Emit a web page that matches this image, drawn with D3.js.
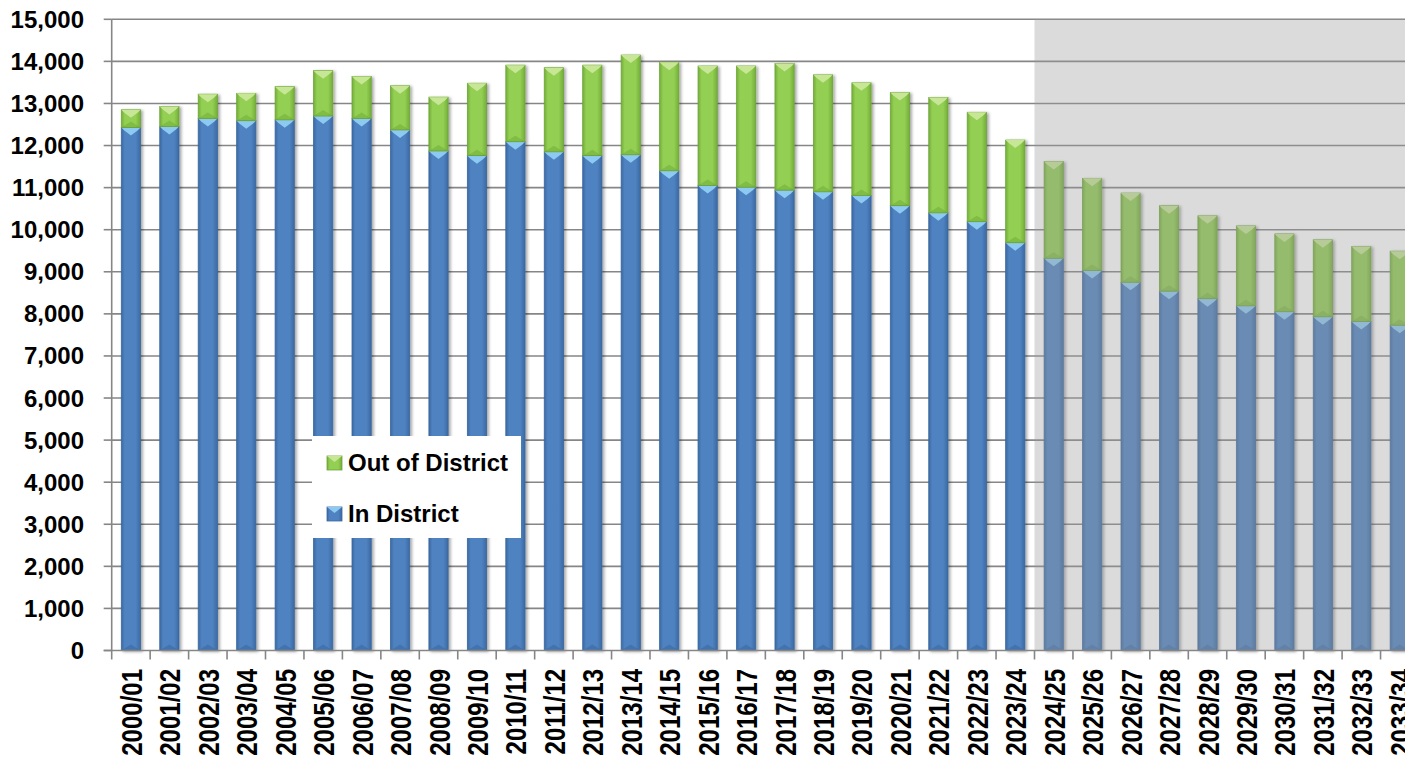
<!DOCTYPE html>
<html>
<head>
<meta charset="utf-8">
<script src="https://cdn.jsdelivr.net/npm/d3@7"></script>
<style>
  body { margin: 0; background: #fff; }
  svg { display: block; }
  text { font-family: "Liberation Sans", Arial, sans-serif; font-weight: bold; fill: #000; }
</style>
</head>
<body>
<script>
// school years
var categories = [
  "2000/01","2001/02","2002/03","2003/04","2004/05","2005/06","2006/07","2007/08",
  "2008/09","2009/10","2010/11","2011/12","2012/13","2013/14","2014/15","2015/16",
  "2016/17","2017/18","2018/19","2019/20","2020/21","2021/22","2022/23","2023/24",
  "2024/25","2025/26","2026/27","2027/28","2028/29","2029/30","2030/31","2031/32",
  "2032/33","2033/34"
];

var inDistrict = [
  12430, 12450, 12640, 12590, 12610, 12700, 12640, 12370,
  11870, 11760, 12090, 11850, 11760, 11780, 11400, 11050,
  11010, 10940, 10900, 10810, 10570, 10400, 10190, 9690,
  9320, 9030, 8750, 8540, 8360, 8190, 8050, 7930,
  7820, 7730
];

var outOfDistrict = [
  420, 480, 580, 650, 790, 1080, 1000, 1050,
  1280, 1720, 1820, 2000, 2150, 2370, 2580, 2840,
  2880, 3010, 2780, 2680, 2690, 2740, 2600, 2440,
  2300, 2190, 2120, 2030, 1970, 1900, 1850, 1830,
  1780, 1760
];

var yTicks = [0,1000,2000,3000,4000,5000,6000,7000,8000,9000,10000,11000,12000,13000,14000,15000];
var forecastStart = "2024/25";

var W = 1405, H = 758;
var plotLeft = 111.7, plotTop = 19.3, plotBottom = 650.5, plotRight = 1419;

var svg = d3.select("body").append("svg")
  .attr("width", W)
  .attr("height", H);

var defs = svg.append("defs");

function hGrad(id, edge, mid) {
  var g = defs.append("linearGradient").attr("id", id)
    .attr("x1", "0%").attr("x2", "100%").attr("y1", "0%").attr("y2", "0%");
  g.append("stop").attr("offset", "0%").attr("stop-color", edge);
  g.append("stop").attr("offset", "18%").attr("stop-color", mid);
  g.append("stop").attr("offset", "75%").attr("stop-color", mid);
  g.append("stop").attr("offset", "100%").attr("stop-color", edge);
}
hGrad("blueGrad", "#3b6aa3", "#4f82c0");
hGrad("greenGrad", "#74ad3a", "#92cf52");

var shadow = defs.append("filter").attr("id", "shadow")
  .attr("x", "-50%").attr("y", "-10%").attr("width", "200%").attr("height", "120%");
shadow.append("feDropShadow").attr("dx", 2).attr("dy", 1).attr("stdDeviation", 1.6)
  .attr("flood-color", "#000").attr("flood-opacity", 0.35);

var x = d3.scaleBand()
  .domain(categories)
  .range([plotLeft, plotRight])
  .paddingInner(0.5)
  .paddingOuter(0.25);

var y = d3.scaleLinear()
  .domain([0, 15000])
  .range([plotBottom, plotTop]);

var step = x.step();
var gap = (step - x.bandwidth()) / 2;

// gridlines
svg.append("g")
  .selectAll("line")
  .data(yTicks.filter(function(d) { return d > 0; }))
  .enter().append("line")
  .attr("x1", plotLeft).attr("x2", W)
  .attr("y1", function(d) { return y(d); })
  .attr("y2", function(d) { return y(d); })
  .attr("stroke", "#868686")
  .attr("stroke-width", 1.6);

// bars
var stacked = categories.map(function(c, i) {
  return { cat: c, inD: inDistrict[i], outD: outOfDistrict[i] };
});

var bw = x.bandwidth();
var tri = 6;

function segment(g, x0, yTop, yBot, grad, light, dark, edge) {
  var h = yBot - yTop;
  g.append("rect")
    .attr("x", x0).attr("y", yTop)
    .attr("width", bw).attr("height", h)
    .attr("fill", "url(#" + grad + ")")
    .attr("stroke", edge).attr("stroke-width", 0.8);
  // top bevel
  g.append("path")
    .attr("d", "M" + x0 + "," + yTop + "L" + (x0 + bw) + "," + yTop +
      "L" + (x0 + bw - 3) + "," + (yTop + 3) + "L" + (x0 + bw / 2) + "," + (yTop + tri + 2) +
      "L" + (x0 + 3) + "," + (yTop + 3) + "Z")
    .attr("fill", light);
  // bottom bevel
  g.append("path")
    .attr("d", "M" + x0 + "," + yBot + "L" + (x0 + bw) + "," + yBot +
      "L" + (x0 + bw / 2) + "," + (yBot - tri) + "Z")
    .attr("fill", dark).attr("opacity", 0.35);
}

var barG = svg.append("g");
stacked.forEach(function(d) {
  var g = barG.append("g").attr("filter", "url(#shadow)");
  var x0 = x(d.cat);
  segment(g, x0, y(d.inD), y(0), "blueGrad", "#8ccaf2", "#2e5a8f", "#3a679e");
  segment(g, x0, y(d.inD + d.outD), y(d.inD), "greenGrad", "#c7e796", "#5e9a2a", "#6fa43a");
});

// forecast shading
var fx = x(forecastStart) - gap;
svg.append("rect")
  .attr("x", fx).attr("y", plotTop)
  .attr("width", W - fx).attr("height", plotBottom - plotTop)
  .attr("fill", "#9a9a9a")
  .attr("opacity", 0.36);

// axes
svg.append("line")
  .attr("x1", plotLeft).attr("x2", plotLeft)
  .attr("y1", plotTop).attr("y2", plotBottom)
  .attr("stroke", "#868686").attr("stroke-width", 1.6);
svg.append("line")
  .attr("x1", plotLeft - 8).attr("x2", W)
  .attr("y1", plotBottom).attr("y2", plotBottom)
  .attr("stroke", "#868686").attr("stroke-width", 1.6);

svg.append("g")
  .selectAll("line")
  .data(yTicks)
  .enter().append("line")
  .attr("x1", plotLeft - 8).attr("x2", plotLeft)
  .attr("y1", function(d) { return y(d); })
  .attr("y2", function(d) { return y(d); })
  .attr("stroke", "#868686").attr("stroke-width", 1.6);

svg.append("g")
  .selectAll("line")
  .data(categories)
  .enter().append("line")
  .attr("x1", function(d) { return x(d) - gap; })
  .attr("x2", function(d) { return x(d) - gap; })
  .attr("y1", plotBottom).attr("y2", plotBottom + 9)
  .attr("stroke", "#868686").attr("stroke-width", 1.6);

var fmt = d3.format(",");
svg.append("g")
  .selectAll("text")
  .data(yTicks)
  .enter().append("text")
  .attr("x", 84)
  .attr("y", function(d) { return y(d) + 8.5; })
  .attr("text-anchor", "end")
  .style("font-size", "24px")
  .text(function(d) { return fmt(d); });

svg.append("g")
  .selectAll("text")
  .data(categories)
  .enter().append("text")
  .attr("transform", function(d) {
    return "translate(" + (x(d) + bw / 2 + 11) + "," + 669 + ") rotate(-90) scale(1,1.22)";
  })
  .attr("text-anchor", "end")
  .style("font-size", "24px")
  .text(function(d) { return d; });

// legend
var leg = svg.append("g");
leg.append("rect")
  .attr("x", 312).attr("y", 436)
  .attr("width", 209).attr("height", 102)
  .attr("fill", "#fff");

var legendItems = [
  { label: "Out of District", grad: "greenGrad", light: "#c7e796", edge: "#6fa43a", y: 456 },
  { label: "In District", grad: "blueGrad", light: "#8ccaf2", edge: "#3a679e", y: 507 }
];
legendItems.forEach(function(it) {
  leg.append("rect")
    .attr("x", 327).attr("y", it.y)
    .attr("width", 15).attr("height", 14)
    .attr("fill", "url(#" + it.grad + ")")
    .attr("stroke", it.edge).attr("stroke-width", 0.8);
  leg.append("path")
    .attr("d", "M327," + it.y + "L342," + it.y + "L334.5," + (it.y + 6) + "Z")
    .attr("fill", it.light);
  leg.append("text")
    .attr("x", 348).attr("y", it.y + 14.5)
    .style("font-size", "24px")
    .text(it.label);
});
</script>
</body>
</html>
